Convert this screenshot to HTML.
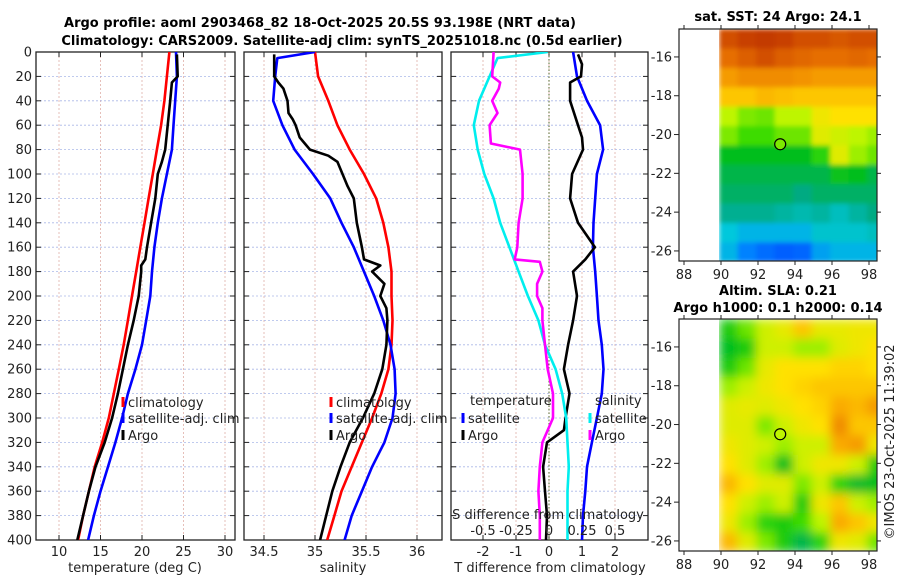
<!DOCTYPE html>
<html><head><meta charset="utf-8"><style>
body{margin:0;background:#fff}
svg text{font-family:"DejaVu Sans","Liberation Sans",sans-serif;fill:#222}
.b{font-weight:bold;fill:#000}
</style></head><body>
<svg id="svg" width="900" height="580" viewBox="0 0 900 580" xmlns="http://www.w3.org/2000/svg">
<defs>
<clipPath id="c1"><rect x="36" y="52" width="199" height="488"/></clipPath>
<clipPath id="c2"><rect x="244" y="52" width="198" height="488"/></clipPath>
<clipPath id="c3"><rect x="451" y="52" width="197" height="488"/></clipPath>
<clipPath id="cm1"><rect x="719" y="29" width="158" height="232"/></clipPath>
<clipPath id="cm2"><rect x="719" y="319" width="158" height="232"/></clipPath>
<filter id="blur" x="0" y="0" width="1" height="1"><feGaussianBlur stdDeviation="5" edgeMode="duplicate"/></filter>
<filter id="blur2" x="0" y="0" width="1" height="1"><feGaussianBlur stdDeviation="2.5" edgeMode="duplicate"/></filter>
</defs>
<text class="b" x="320" y="27" font-size="13" text-anchor="middle">Argo profile: aoml 2903468_82 18-Oct-2025 20.5S 93.198E (NRT data)</text>
<text class="b" x="342" y="45" font-size="13" text-anchor="middle">Climatology: CARS2009. Satellite-adj clim: synTS_20251018.nc (0.5d earlier)</text>
<g id="g"></g>
</svg>
<script>
const depthStd=[0,20,40,60,80,100,120,140,160,180,200,220,240,260,280,300,320,340,360,380,400];
const tempClim=[23.3,23.0,22.7,22.3,21.8,21.3,20.8,20.3,19.8,19.3,18.8,18.3,17.8,17.2,16.6,16.0,15.2,14.3,13.6,12.9,12.3];
const tempSat=[24.1,24.2,24.0,23.8,23.6,23.0,22.4,21.9,21.5,21.2,21.0,20.5,20.0,19.2,18.3,17.6,16.8,15.9,15.0,14.2,13.5];
const tempArgoDepth=[2,20,25,40,60,80,90,100,120,140,160,170,175,180,200,220,240,260,280,300,320,340,360,380,400];
const tempArgo=[24.2,24.3,23.6,23.4,23.1,22.8,22.4,21.9,21.6,21.1,20.6,20.4,19.9,19.9,19.6,19.0,18.3,17.7,17.1,16.4,15.5,14.4,13.6,12.9,12.2];
const salClim=[35.00,35.03,35.13,35.22,35.34,35.48,35.60,35.67,35.72,35.75,35.75,35.76,35.75,35.72,35.65,35.56,35.46,35.36,35.26,35.19,35.12];
const salSatDepth=[0,5,20,40,60,80,100,120,140,160,180,200,220,240,260,280,300,320,340,360,380,400];
const salSat=[35.00,34.63,34.61,34.59,34.68,34.80,34.98,35.15,35.26,35.38,35.48,35.58,35.67,35.74,35.78,35.79,35.76,35.68,35.56,35.46,35.36,35.29];
const salArgoDepth=[2,20,25,30,40,50,55,60,70,75,80,85,90,100,110,120,140,160,170,175,180,190,200,210,220,240,260,280,300,320,340,360,380,400];
const salArgo=[34.60,34.60,34.64,34.69,34.73,34.74,34.78,34.81,34.85,34.90,34.95,35.13,35.22,35.27,35.32,35.38,35.41,35.46,35.48,35.64,35.56,35.68,35.64,35.70,35.71,35.70,35.66,35.58,35.47,35.34,35.25,35.17,35.11,35.05];
const tDiffSat=[0.73,0.85,1.15,1.55,1.64,1.45,1.4,1.35,1.33,1.4,1.45,1.5,1.6,1.65,1.6,1.45,1.3,1.15,1.1,1.03,1.0];
const tDiffArgoDepth=[2,10,20,25,40,60,70,80,100,120,140,160,170,180,200,220,240,260,280,300,310,320,340,360,380,400];
const tDiffArgo=[0.88,1.0,0.97,0.64,0.64,0.88,1.0,1.03,0.7,0.64,0.88,1.39,1.1,0.73,0.85,0.73,0.58,0.45,0.62,0.5,0.45,-0.06,-0.18,-0.12,-0.06,-0.09];
const sDiffSat=[-0.01,-0.39,-0.45,-0.53,-0.57,-0.54,-0.49,-0.42,-0.37,-0.30,-0.23,-0.16,-0.08,-0.03,0.05,0.10,0.13,0.14,0.15,0.14,0.14,0.14];
const sDiffArgoDepth=[0,20,25,30,40,50,60,75,80,100,120,140,160,170,172,180,190,200,210,220,240,260,280,300,320,340,360,380,400];
const sDiffArgo=[-0.42,-0.43,-0.37,-0.38,-0.43,-0.39,-0.45,-0.44,-0.22,-0.20,-0.20,-0.23,-0.24,-0.26,-0.07,-0.05,-0.09,-0.09,-0.05,-0.05,-0.03,-0.01,0.03,0.03,-0.05,-0.07,-0.08,-0.07,-0.07];
const depthTicks=[0,20,40,60,80,100,120,140,160,180,200,220,240,260,280,300,320,340,360,380,400];
const tempTicks=[10,15,20,25,30];
const salTicks=[34.5,35,35.5,36];
const tdTicks=[-2,-1,0,1,2];
const sdTicks=[-0.5,-0.25,0,0.25,0.5];
const sdTickLabels=["-0.5","-0.25","0","0.25","0.5"];
const lonTicks=[88,90,92,94,96,98];
const latTicks=[-16,-18,-20,-22,-24,-26];
const sstGrid=[
[.88,.90,.91,.90,.88,.88,.87,.88,.88],
[.84,.86,.88,.86,.85,.84,.84,.85,.84],
[.78,.80,.80,.80,.79,.78,.78,.78,.78],
[.72,.72,.74,.73,.72,.72,.72,.72,.72],
[.60,.56,.55,.60,.60,.66,.68,.68,.68],
[.56,.52,.52,.55,.55,.64,.62,.60,.58],
[.45,.45,.45,.45,.45,.50,.64,.58,.55],
[.42,.42,.42,.42,.42,.42,.46,.45,.42],
[.40,.40,.40,.40,.38,.40,.40,.40,.40],
[.37,.37,.37,.36,.35,.36,.34,.36,.38],
[.32,.30,.30,.30,.30,.33,.33,.33,.34],
[.30,.25,.22,.20,.21,.28,.30,.30,.30]];
const slaGrid=[
[.48,.55,.62,.65,.72,.65,.65,.66,.66],
[.45,.48,.62,.62,.58,.58,.64,.66,.68],
[.48,.55,.65,.68,.68,.68,.70,.70,.68],
[.58,.62,.66,.68,.70,.72,.72,.72,.72],
[.64,.65,.64,.66,.68,.70,.76,.74,.78],
[.64,.64,.56,.62,.66,.68,.80,.72,.72],
[.66,.64,.62,.58,.62,.62,.76,.78,.66],
[.68,.64,.58,.45,.62,.66,.66,.62,.48],
[.74,.68,.64,.64,.56,.62,.50,.44,.45],
[.68,.62,.58,.62,.48,.66,.72,.62,.58],
[.66,.58,.50,.48,.52,.60,.76,.72,.66],
[.74,.64,.56,.48,.42,.50,.66,.64,.55]];
const floatLon=93.2, floatLat=-20.5;

const NS='http://www.w3.org/2000/svg';
const G=document.getElementById('g');
function el(t,a,p){const e=document.createElementNS(NS,t);for(const k in a)e.setAttribute(k,a[k]);(p||G).appendChild(e);return e;}
function txt(s,a,p){const e=el('text',a,p);e.textContent=s;return e;}
const yD=d=>52+d*488/400;
const x1=v=>59+(v-10)*8.3, x2=v=>264+(v-34.5)*102, x3=v=>549+v*33, x3s=v=>549+v*132;

function frame(L,R,name,xs,ticks,labels,showY){
  const g=el('g',{});
  
  
  ticks.forEach(t=>{const gl=el('line',{x1:xs(t),x2:xs(t),y1:52,y2:540,stroke:'#e0b0a8','stroke-width':0.8,'stroke-dasharray':'2,2'},g);});
  depthTicks.forEach(d=>{const gl=el('line',{x1:L,x2:R,y1:yD(d),y2:yD(d),stroke:'#aab8e8','stroke-width':0.8,'stroke-dasharray':'2,2'},g);
    el('line',{x1:L,x2:L+5,y1:yD(d),y2:yD(d),stroke:'#222'},g);el('line',{x1:R-5,x2:R,y1:yD(d),y2:yD(d),stroke:'#222'},g);
    if(showY){const t=txt(String(d),{x:L-4,y:yD(d)+4.5,'font-size':13,'text-anchor':'end'},g);}
  });
  ticks.forEach((t,i)=>{el('line',{x1:xs(t),x2:xs(t),y1:540,y2:535,stroke:'#222'},g);el('line',{x1:xs(t),x2:xs(t),y1:52,y2:57,stroke:'#222'},g);
    if(labels){const tl=txt(labels[i],{x:xs(t),y:556,'font-size':13,'text-anchor':'middle'},g);}});
  el('rect',{x:L,y:52,width:R-L,height:488,fill:'none',stroke:'#222','stroke-width':1.3},g);
  return g;
}
function line(xs,depths,vals,color,clip,name){
  const pts=vals.map((v,i)=>xs(v).toFixed(1)+','+yD(depths[i]).toFixed(1)).join(' ');
  const p=el('polyline',{points:pts,fill:'none',stroke:color,'stroke-width':2.6,'stroke-linejoin':'round','clip-path':'url(#'+clip+')'});
  
  
}
function legendItem(x,y,color,label,name){
  const g=el('g',{});
  
  
  el('rect',{x:x-1.5,y:y-10,width:3,height:10,fill:color},g);
  txt(label,{x:x+5,y:y,'font-size':13},g);
}
frame(36,235,'temperature-panel',x1,tempTicks,tempTicks.map(String),true);
line(x1,depthStd,tempClim,'#ff0000','c1','temp-climatology-line');
line(x1,depthStd,tempSat,'#0000ff','c1','temp-satellite-line');
line(x1,tempArgoDepth,tempArgo,'#000','c1','temp-argo-line');
let t=txt('temperature (deg C)',{x:135,y:572,'font-size':13,'text-anchor':'middle'});
legendItem(123,407,'#ff0000','climatology','legend-climatology');
legendItem(123,423,'#0000ff','satellite-adj. clim','legend-satellite-adj');
legendItem(123,440,'#000','Argo','legend-argo');
frame(244,442,'salinity-panel',x2,salTicks,["34.5","35","35.5","36"],false);
line(x2,depthStd,salClim,'#ff0000','c2','sal-climatology-line');
line(x2,salSatDepth,salSat,'#0000ff','c2','sal-satellite-line');
line(x2,salArgoDepth,salArgo,'#000','c2','sal-argo-line');
t=txt('salinity',{x:343,y:572,'font-size':13,'text-anchor':'middle'});
legendItem(331,407,'#ff0000','climatology','legend-climatology-2');
legendItem(331,423,'#0000ff','satellite-adj. clim','legend-satellite-adj-2');
legendItem(331,440,'#000','Argo','legend-argo-2');
frame(451,648,'difference-panel',x3,tdTicks,tdTicks.map(String),false);
el('line',{x1:x3(0),x2:x3(0),y1:52,y2:540,stroke:'#556b2f','stroke-width':1,'stroke-dasharray':'1.5,2'});
line(x3,depthStd,tDiffSat,'#0000ff','c3','tdiff-satellite-line');
line(x3,tDiffArgoDepth,tDiffArgo,'#000','c3','tdiff-argo-line');
line(x3s,salSatDepth,sDiffSat,'#00eeee','c3','sdiff-satellite-line');
line(x3s,sDiffArgoDepth,sDiffArgo,'#ff00ff','c3','sdiff-argo-line');
t=txt('T difference from climatology',{x:550,y:572,'font-size':13,'text-anchor':'middle'});
t=txt('S difference from climatology',{x:548,y:519,'font-size':13,'text-anchor':'middle'});
sdTicks.forEach((v,i)=>{const s=txt(sdTickLabels[i],{x:x3s(v),y:535,'font-size':13,'text-anchor':'middle'});});
t=txt('temperature',{x:470,y:405,'font-size':13});
t=txt('salinity',{x:595,y:405,'font-size':13});
legendItem(463,423,'#0000ff','satellite','legend-t-satellite');
legendItem(463,440,'#000','Argo','legend-t-argo');
legendItem(590,423,'#00eeee','satellite','legend-s-satellite');
legendItem(590,440,'#ff00ff','Argo','legend-s-argo');

const stops=[[0.15,[0,60,255]],[0.25,[0,130,255]],[0.32,[0,200,220]],[0.38,[0,170,130]],[0.45,[0,190,30]],[0.52,[60,220,0]],[0.6,[190,245,0]],[0.68,[255,225,0]],[0.76,[250,170,0]],[0.84,[230,110,0]],[0.92,[190,50,0]]];
function cmap(v){for(let i=0;i<stops.length-1;i++){const a=stops[i],b=stops[i+1];if(v<=b[0]){const f=Math.max(0,(v-a[0])/(b[0]-a[0]));return 'rgb('+a[1].map((c,j)=>Math.round(c+(b[1][j]-c)*f)).join(',')+')';}}return 'rgb(190,50,0)';}
const lonX=l=>679+(l-87.73)*18.5;
function map(top,grid,clip,name,filt,markerVal){
  const latY=la=>top+(-14.56-la)*19.4;
  const g=el('g',{});
  
  
  const cg=el('g',{'clip-path':'url(#'+clip+')'},g);
  const inner=el('g',{filter:'url(#'+filt+')'},cg);
  grid.forEach((row,r)=>row.forEach((v,c)=>{
    const cell=el('rect',{x:lonX(89.9+c),y:latY(-14.56-r),width:18.5+0.6,height:19.4+0.6,fill:cmap(v)},inner);
    
    
  }));
  el('rect',{x:679,y:top,width:198,height:232,fill:'none',stroke:'#222','stroke-width':1.2},g);
  latTicks.forEach(la=>{el('line',{x1:679,x2:674,y1:latY(la),y2:latY(la),stroke:'#222'},g);el('line',{x1:877,x2:881,y1:latY(la),y2:latY(la),stroke:'#222'},g);
    const l=txt(String(la),{x:672,y:latY(la)+4.5,'font-size':13,'text-anchor':'end'},g);});
  lonTicks.forEach(lo=>{el('line',{x1:lonX(lo),x2:lonX(lo),y1:top+232,y2:top+236,stroke:'#222'},g);el('line',{x1:lonX(lo),x2:lonX(lo),y1:top,y2:top-4,stroke:'#222'},g);
    const l=txt(String(lo),{x:lonX(lo),y:top+250,'font-size':13,'text-anchor':'middle'},g);});
  const m=el('circle',{cx:lonX(floatLon),cy:latY(floatLat),r:5.5,fill:cmap(markerVal),stroke:'#000','stroke-width':1.2},g);
  
  
}
map(29,sstGrid,'cm1','sst-map','blur2',0.56);
map(319,slaGrid,'cm2','sla-map','blur',0.6);
t=txt('sat. SST: 24 Argo: 24.1',{x:778,y:21,'font-size':13,'class':'b','text-anchor':'middle'});
t=txt('Altim. SLA: 0.21',{x:778,y:295,'font-size':13,'class':'b','text-anchor':'middle'});
t=txt('Argo h1000: 0.1 h2000: 0.14',{x:778,y:312,'font-size':13,'class':'b','text-anchor':'middle'});
t=txt('©IMOS 23-Oct-2025 11:39:02',{x:0,y:0,'font-size':13,'text-anchor':'middle',transform:'translate(894,442) rotate(-90)'});
</script>
</body></html>
